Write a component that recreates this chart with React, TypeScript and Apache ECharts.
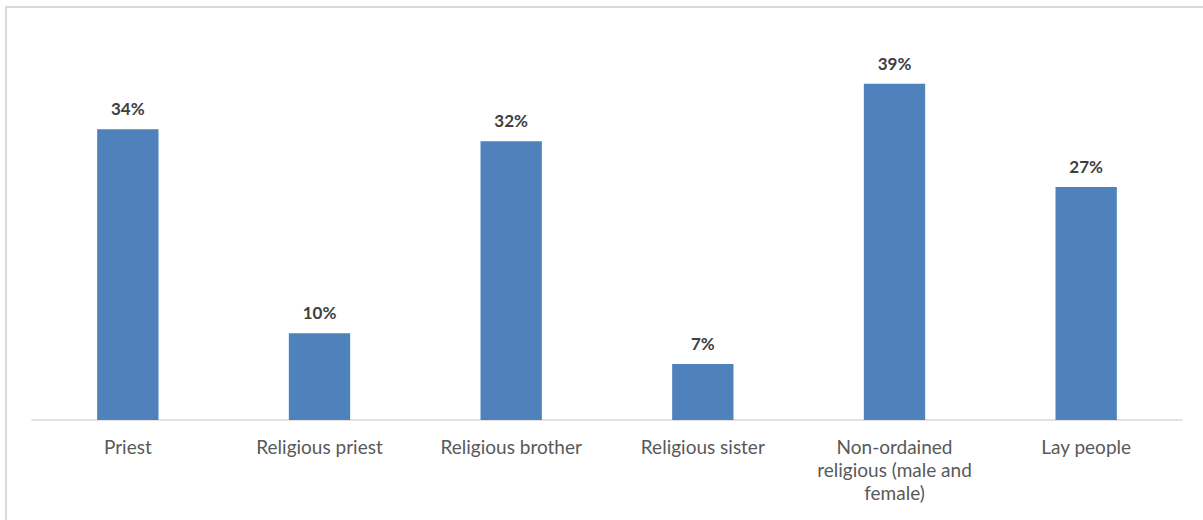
import React, { useEffect, useRef } from "react";
import * as echarts from "echarts";

const categories: string[] = [
  "Priest",
  "Religious priest",
  "Religious brother",
  "Religious sister",
  "Non-ordained\nreligious (male and\nfemale)",
  "Lay people",
];
const values: number[] = [33.8, 10.1, 32.4, 6.5, 39.1, 27.1];

export default function App() {
  const ref = useRef<HTMLDivElement>(null);
  useEffect(() => {
    if (!ref.current) return;
    const chart = echarts.init(ref.current, undefined, { renderer: "svg" });
    chart.setOption({
      animation: false,
      backgroundColor: "#ffffff",
      grid: { left: 32, right: 21, top: 33, bottom: 100, containLabel: false },
      xAxis: {
        type: "category",
        data: categories,
        axisLine: { show: true, lineStyle: { color: "#d9d9d9", width: 1.5 } },
        axisTick: { show: false },
        axisLabel: {
          interval: 0,
          margin: 15,
          color: "#595959",
          fontFamily: "Lato, 'Open Sans', sans-serif",
          fontSize: 19,
          lineHeight: 23,
          align: "center",
        },
      },
      yAxis: {
        type: "value",
        min: 0,
        max: 45,
        show: false,
        splitLine: { show: false },
      },
      series: [
        {
          type: "bar",
          data: values,
          barWidth: "32%",
          itemStyle: { color: "#4F81BD" },
          label: {
            show: true,
            position: "top",
            distance: 12,
            formatter: (p: any) => Math.round(p.value) + "%",
            color: "#404040",
            fontWeight: "bold",
            fontSize: 17,
            fontFamily: "Lato, 'Open Sans', sans-serif",
          },
        },
      ],
      graphic: [
        {
          type: "line",
          shape: { x1: 6, y1: 7, x2: 1203, y2: 7 },
          style: { stroke: "#d9d9d9", lineWidth: 2 },
        },
        {
          type: "line",
          shape: { x1: 6, y1: 6, x2: 6, y2: 520 },
          style: { stroke: "#d9d9d9", lineWidth: 2 },
        },
      ],
    });
    return () => chart.dispose();
  }, []);
  return (
    <div
      ref={ref}
      style={{ position: "fixed", left: 0, top: 0, width: 1203, height: 520 }}
    />
  );
}
